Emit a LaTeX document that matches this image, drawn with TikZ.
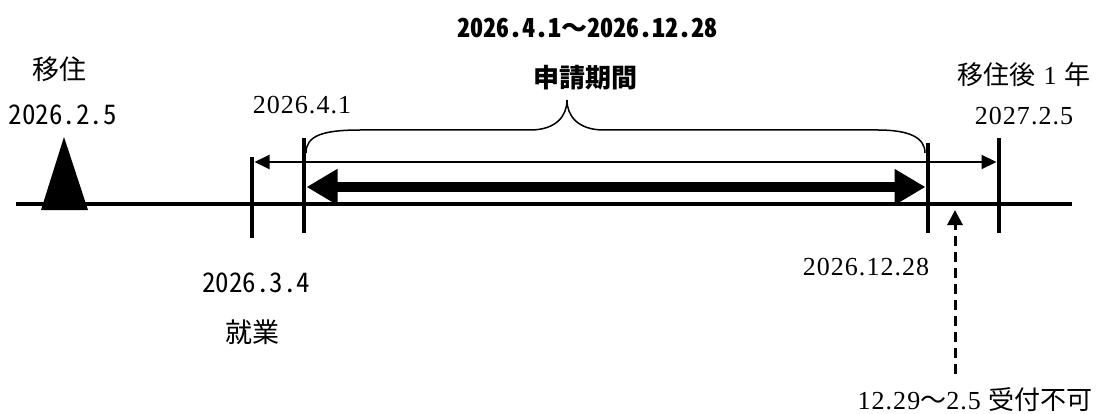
\documentclass[tikz,border=0pt]{standalone}
\usepackage{fontspec}
\setmainfont{Liberation Serif}
\newfontfamily\jpgothic[CharacterWidth=Half]{Noto Sans CJK JP}
\newfontfamily\jpfull{Noto Sans CJK JP}
\usetikzlibrary{arrows.meta}
\tikzstyle{gothic} = [inner sep=0pt, font=\jpgothic\fontsize{27}{30}\selectfont]
\tikzstyle{gothictitle} = [inner sep=0pt, font=\jpgothic\bfseries\fontsize{26}{30}\selectfont]
\tikzstyle{mincho} = [inner sep=0pt, font=\addfontfeature{LetterSpace=4}\fontsize{26}{30}\selectfont]
\tikzstyle{tick} = [line width=4.5pt]
\tikzstyle{baseline} = [line width=3.5pt]
\tikzstyle{spanarrow} = [line width=2pt, {Triangle[length=15pt,width=14pt]}-{Triangle[length=15pt,width=14pt]}]
\tikzstyle{periodarrow} = [line width=10pt, {Triangle[length=31pt,width=34pt]}-{Triangle[length=31pt,width=34pt]}]
\tikzstyle{closedarrow} = [line width=3pt, dash pattern=on 10pt off 6pt, -{Triangle[length=15pt,width=15pt]}]

\begin{document}
\begin{tikzpicture}[x=1pt, y=-1pt]
    \useasboundingbox (0,0) rectangle (1105,414);
    % time line
    \coordinate (lineL) at (16,204);
    \coordinate (lineR) at (1072,204);
    \draw[baseline] (lineL) -- (lineR);
    \fill (41,210) -- (64,137) -- (88,210) -- cycle;
    % ticks
    \coordinate (workT) at (252,157);   \coordinate (workB) at (252,238);
    \coordinate (startT) at (304,138);  \coordinate (startB) at (304,233);
    \coordinate (endT) at (928,143);    \coordinate (endB) at (928,233);
    \coordinate (yearT) at (999,138);   \coordinate (yearB) at (999,233);
    \draw[tick] (workT) -- (workB);
    \draw[tick] (startT) -- (startB);
    \draw[tick] (endT) -- (endB);
    \draw[tick] (yearT) -- (yearB);
    % arrows
    \coordinate (spanL) at (254.5,162);  \coordinate (spanR) at (996.5,162);
    \draw[spanarrow] (spanL) -- (spanR);
    \coordinate (periodL) at (306.5,187);  \coordinate (periodR) at (925.5,187);
    \draw[periodarrow] (periodL) -- (periodR);
    % brace
    \draw[line width=1.5pt] (306,153) .. controls (306,136) and (322,130) .. (360,130)
        -- (530,130) .. controls (556,130) and (567,116) .. (567,100)
        .. controls (567,116) and (578,130) .. (604,130)
        -- (878,130) .. controls (910,130) and (925,138) .. (925,153);
    % labels
    \node[gothictitle] (period) at (587,28) {2026.4.1{\jpfull\bfseries ～}2026.12.28};
    \node[gothictitle] (apply) at (585,78) {申請期間};
    \node[gothic] (move) at (59,69) {移住};
    \node[gothic] (moveday) at (63,115) {2026.2.5};
    \node[mincho] (startday) at (302,105) {2026.4.1};
    \node[mincho] (yearlabel) at (1024,75) {{\jpfull 移住後}~1~{\jpfull 年}};
    \node[mincho] (yearday) at (1024,116) {2027.2.5};
    \node[gothic] (workday) at (256,283) {2026.3.4};
    \node[gothic] (work) at (252,332) {就業};
    \node[mincho] (endday) at (866,267) {2026.12.28};
    \node[mincho] (closed) at (975,400) {12.29{\jpfull ～}2.5~{\jpfull 受付不可}};
    \coordinate (closedTip) at (955,210);
    \draw[closedarrow] (closed.north -| closedTip) ++(0,-14) -- (closedTip);
\end{tikzpicture}
\end{document}
